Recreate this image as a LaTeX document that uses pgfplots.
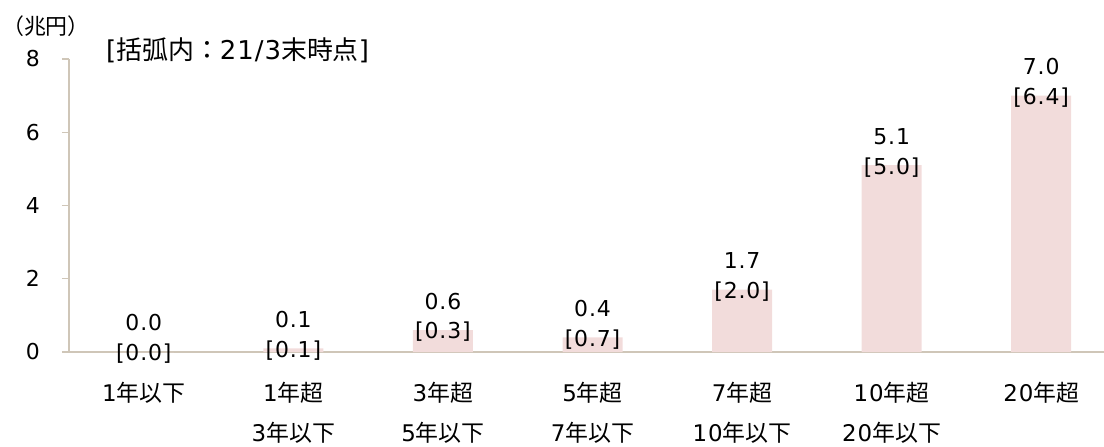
\documentclass[border=0pt]{standalone}
\usepackage{pgfplots}
\pgfplotsset{compat=1.18}
\usepackage{fontspec}
\setmainfont[LetterSpace=4]{DejaVu Sans}
\newfontfamily\jpfont{Noto Sans CJK JP}
\newcommand\jp[1]{{\jpfont #1}}
\definecolor{barpink}{HTML}{F2DCDB}
\definecolor{axisgray}{HTML}{CFC6B8}

% outstanding amount by remaining maturity (trillion yen), previous figure in brackets
\pgfplotstableread{
x y val prev
0 0.0 0.0 [0.0]
1 0.1 0.1 [0.1]
2 0.6 0.6 [0.3]
3 0.4 0.4 [0.7]
4 1.7 1.7 [2.0]
5 5.1 5.1 [5.0]
6 7.0 7.0 [6.4]
}\maturity

\begin{document}
\begin{tikzpicture}
\begin{axis}[
  at={(0,0)}, anchor=south west,
  scale only axis, width=1035bp, height=293bp,
  xmin=-0.5, xmax=6.42, ymin=0, ymax=8,
  axis lines*=left,
  axis line style={axisgray, line width=1.4bp},
  ytick={0,2,4,6,8},
  tick align=outside,
  major tick length=7bp,
  ytick style={axisgray, line width=1.4bp},
  xtick={0,...,6},
  xtick style={draw=none},
  xticklabels={
    {1\jp{年以下}},
    {1\jp{年超}\\3\jp{年以下}},
    {3\jp{年超}\\5\jp{年以下}},
    {5\jp{年超}\\7\jp{年以下}},
    {7\jp{年超}\\10\jp{年以下}},
    {10\jp{年超}\\20\jp{年以下}},
    {20\jp{年超}}},
  xticklabel style={align=center, anchor=north, inner sep=0pt,
    font=\fontsize{23}{40}\selectfont, yshift=-23bp},
  yticklabel style={anchor=east, inner sep=0pt, xshift=-22bp,
    font=\fontsize{22}{26}\selectfont},
  /pgf/number format/assume math mode=true,
  clip=false,
]
\addplot[ybar, bar width=60bp, fill=barpink, draw=none]
  table[x=x, y=y] {\maturity};
\addplot[draw=none, nodes near coords, point meta=explicit symbolic,
  nodes near coords style={anchor=center, yshift=29bp,
    font=\fontsize{22}{26}\selectfont}]
  table[x=x, y=y, meta=val] {\maturity};
\addplot[draw=none, nodes near coords, point meta=explicit symbolic,
  nodes near coords style={anchor=center, yshift=-2bp,
    font=\fontsize{22}{26}\selectfont}]
  table[x=x, y=y, meta=prev] {\maturity};
\end{axis}
\node[font=\fontsize{22}{26}\selectfont, anchor=center] at (-23bp,326bp) {\jp{（兆円）}};
\node[font=\fontsize{26}{30}\selectfont, anchor=west, inner sep=0pt] at (37bp,302bp) {[\jp{括弧内：}21/3\jp{末時点}]};
\pgfresetboundingbox
\path[use as bounding box] (-69bp,-95bp) rectangle (1035bp,352bp);
\end{tikzpicture}
\end{document}
